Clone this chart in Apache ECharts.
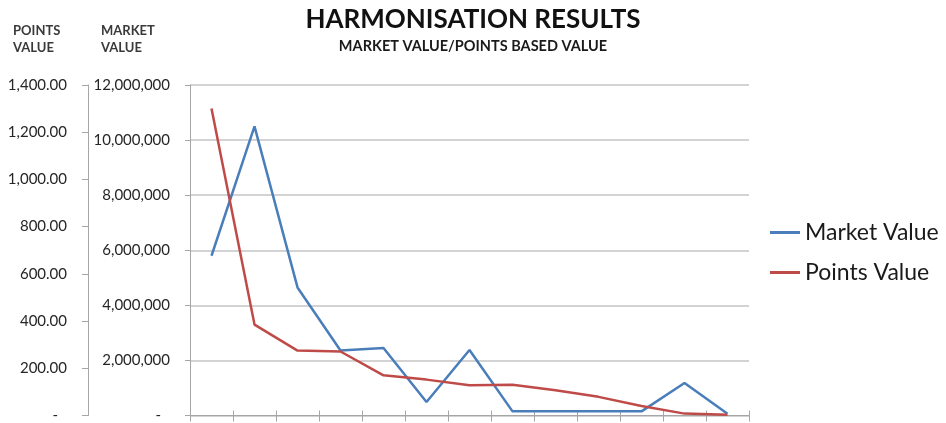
<!DOCTYPE html>
<html>
<head>
<meta charset="utf-8">
<script src="https://cdn.jsdelivr.net/npm/echarts@6/dist/echarts.min.js"></script>
<style>
html,body{margin:0;padding:0;background:#fff;}
#chart{width:946px;height:423px;}
</style>
</head>
<body>
<div id="chart"></div>
<script>
const categories = ['1','2','3','4','5','6','7','8','9','10','11','12','13'];
const marketValue = [5800000, 10500000, 4650000, 2360000, 2450000, 490000, 2380000, 150000, 150000, 150000, 150000, 1180000, 60000];
const pointsValue = [1300, 385, 275, 271, 170, 152, 128, 130, 107, 79, 40, 8, 3];
const marketTicks = {min: 0, max: 12000000, interval: 2000000};
const pointsTicks = {min: 0, max: 1400, interval: 200};
const seriesNames = ['Market Value', 'Points Value'];

const FONT = 'Lato';
const chart = echarts.init(document.getElementById('chart'), null, {renderer: 'canvas'});
const axisGray = '#a6a6a6';
const labelColor = '#262626';
const zeroRich = {z: {padding: [0, 9, 0, 0], fontSize: 15, fontFamily: FONT, color: labelColor}};

chart.setOption({
  animation: false,
  backgroundColor: '#fff',
  textStyle: {fontFamily: FONT},
  title: [
    {text: 'HARMONISATION RESULTS', left: 'center', top: 7, padding: 0,
     textStyle: {fontSize: 26, fontWeight: 'bold', color: '#111', fontFamily: FONT}},
    {text: 'MARKET VALUE/POINTS BASED VALUE', left: 'center', top: 39, padding: 0,
     textStyle: {fontSize: 14.5, fontWeight: 'bold', color: '#1a1a1a', fontFamily: FONT}},
    {text: 'POINTS\nVALUE', left: 13, top: 22, padding: 0,
     textStyle: {fontSize: 13, fontWeight: 'bold', color: '#3a3a3a', lineHeight: 17, fontFamily: FONT}},
    {text: 'MARKET\nVALUE', left: 101, top: 22, padding: 0,
     textStyle: {fontSize: 13, fontWeight: 'bold', color: '#3a3a3a', lineHeight: 17, fontFamily: FONT}}
  ],
  legend: {
    data: seriesNames,
    orient: 'vertical',
    left: 770, top: 221, padding: 0,
    itemWidth: 30, itemHeight: 3, itemGap: 17,
    icon: 'rect',
    textStyle: {fontSize: 23, color: '#1a1a1a', lineHeight: 22, fontFamily: FONT}
  },
  grid: {left: 190, right: 197, top: 85, bottom: 6, containLabel: false},
  xAxis: [
    {type: 'category', data: categories, position: 'bottom', boundaryGap: true,
     axisLine: {show: true, lineStyle: {color: axisGray, width: 1}},
     axisTick: {show: true, length: 6, interval: 0, lineStyle: {color: axisGray}},
     axisLabel: {show: false}, splitLine: {show: false}},
    {type: 'category', data: categories, position: 'top', boundaryGap: true,
     axisLine: {show: true, lineStyle: {color: axisGray, width: 1}},
     axisTick: {show: true, length: 5, interval: 0, lineStyle: {color: axisGray}},
     axisLabel: {show: false}, splitLine: {show: false}}
  ],
  yAxis: [
    {type: 'value', position: 'left', min: marketTicks.min, max: marketTicks.max, interval: marketTicks.interval,
     axisLine: {show: true, lineStyle: {color: axisGray}},
     axisTick: {show: true, length: 5, lineStyle: {color: axisGray}},
     splitLine: {show: true, lineStyle: {color: '#c4c4c4', width: 1.5}},
     axisLabel: {margin: 20, fontSize: 15, color: labelColor, fontFamily: FONT, rich: zeroRich,
       formatter: v => v === 0 ? '{z|-}' : v.toLocaleString('en-US')}},
    {type: 'value', position: 'left', offset: 102, min: pointsTicks.min, max: pointsTicks.max, interval: pointsTicks.interval,
     axisLine: {show: true, lineStyle: {color: axisGray}},
     axisTick: {show: true, length: 6, lineStyle: {color: axisGray}},
     splitLine: {show: false},
     axisLabel: {margin: 21, fontSize: 15, color: labelColor, fontFamily: FONT, rich: zeroRich,
       formatter: v => v === 0 ? '{z|-}' : v.toLocaleString('en-US', {minimumFractionDigits: 2, maximumFractionDigits: 2})}}
  ],
  series: [
    {name: seriesNames[0], type: 'line', xAxisIndex: 0, yAxisIndex: 0, data: marketValue,
     symbol: 'none', lineStyle: {color: '#4A7EBB', width: 2.5}, itemStyle: {color: '#4A7EBB'}},
    {name: seriesNames[1], type: 'line', xAxisIndex: 0, yAxisIndex: 1, data: pointsValue,
     symbol: 'none', lineStyle: {color: '#BE4B48', width: 2.5}, itemStyle: {color: '#BE4B48'}}
  ]
});
</script>
</body>
</html>
